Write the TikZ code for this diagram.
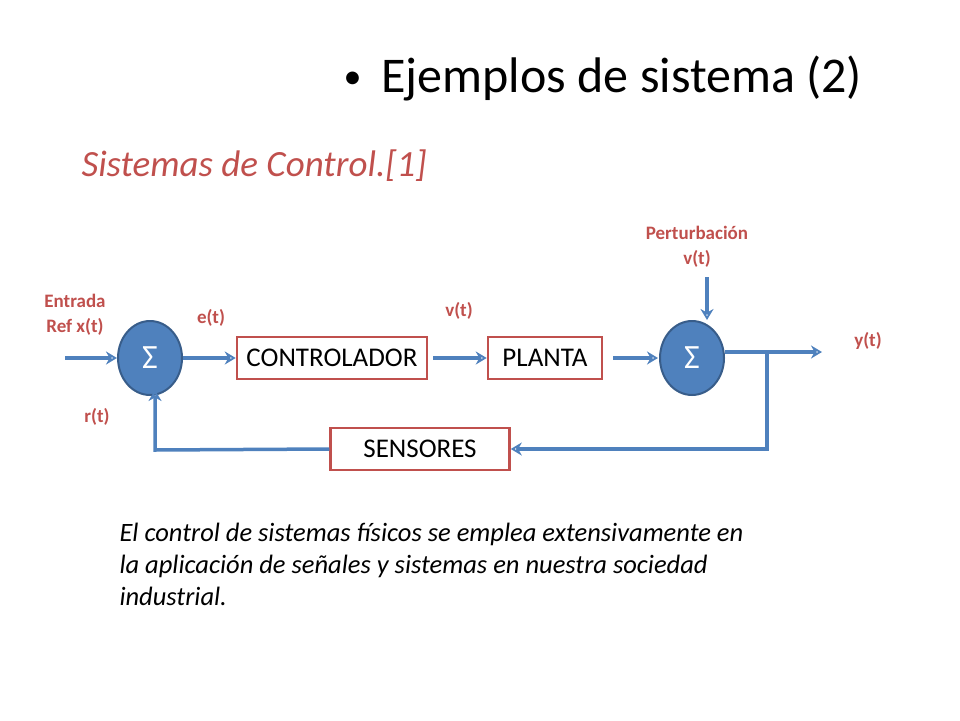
\documentclass[tikz,border=0pt]{standalone}
\usepackage{fontspec}
\setmainfont{Carlito}
\usetikzlibrary{positioning, arrows.meta, shapes.geometric}

\begin{document}
\begin{tikzpicture}[
    x=1pt, y=-1pt,
    >={Stealth[length=11pt,width=13pt,open]},
]

% ── Colors ──
\definecolor{sumfill}{HTML}{4F81BD}
\definecolor{sumborder}{HTML}{385D8A}
\definecolor{boxborder}{HTML}{C0504D}
\definecolor{lblred}{HTML}{C0504D}

\tikzset{
    sumnode/.style={ellipse, draw=sumborder, fill=sumfill, line width=2pt,
        minimum width=64pt, minimum height=74pt, inner sep=0pt,
        text=white, font=\fontsize{34}{36}\selectfont},
    blockbox/.style={rectangle, draw=boxborder, line width=2.5pt, fill=white,
        minimum height=42pt, inner sep=0pt, font=\fontsize{27}{29}\selectfont},
    sigline/.style={->, sumfill, line width=3.5pt},
    siglabel/.style={font=\fontsize{19}{23}\selectfont\bfseries, text=lblred, align=center},
}

\useasboundingbox (0,0) rectangle (960,720);

% ══════════════════════════════════════════════
% Title
% ══════════════════════════════════════════════
\node[anchor=west, font=\fontsize{50}{54}\selectfont] (title) at (340,78)
    {{\fontsize{36}{40}\selectfont\raisebox{4pt}{•}}\hspace{20pt}Ejemplos de sistema (2)};
\node[anchor=west, font=\fontsize{37}{40}\selectfont\itshape, text=lblred]
    (subtitle) at (78,166) {Sistemas de Control.[1]};

% ══════════════════════════════════════════════
% Blocks
% ══════════════════════════════════════════════
\node[sumnode] (sum1) at (150,358) {Σ};
\node[sumnode] (sum2) at (692,358) {Σ};
\node[blockbox, minimum width=190pt] (ctrl) at (332,358) {CONTROLADOR};
\node[blockbox, minimum width=114pt] (plant) at (545,358) {PLANTA};
\node[blockbox, minimum width=179pt] (sens) at (420,449) {SENSORES};

% ══════════════════════════════════════════════
% Signals
% ══════════════════════════════════════════════
\coordinate (xin) at (65,358);
\coordinate (yout) at (822,352);
\coordinate (branch) at (767,352);
\coordinate (dist) at (707,277);
\coordinate (rcorner) at (155,450);

\draw[sigline] (xin) -- (sum1);
\draw[sigline] (sum1.east) -- (ctrl.west);
\draw[sigline] ([xshift=5pt]ctrl.east) -- (plant.west);
\draw[sigline] ([xshift=10pt]plant.east) -- ([xshift=-1pt]sum2.west);
\draw[sigline] (sum2.east |- yout) -- (yout);
\draw[sigline] (branch) |- (sens.east);
\draw[sigline] (sens.west) -- (rcorner) -- ([yshift=6pt]sum1.south -| rcorner);
\draw[sigline] (dist) -- (sum2.north -| dist);

% ══════════════════════════════════════════════
% Labels
% ══════════════════════════════════════════════
\node[siglabel] (inlbl) at (75,315) {Entrada\\[2pt] Ref x(t)};
\node[siglabel] (elbl) at (211,318) {e(t)};
\node[siglabel] (vlbl) at (459,311) {v(t)};
\node[siglabel] (dlbl) at (697,247) {Perturbación\\[2pt] v(t)};
\node[siglabel] (ylbl) at (868,341) {y(t)};
\node[siglabel] (rlbl) at (97,417) {r(t)};

% ══════════════════════════════════════════════
% Caption text
% ══════════════════════════════════════════════
\node[anchor=north west, align=left, font=\fontsize{26.5}{32}\selectfont\itshape]
    (caption) at (116,520) {El control de sistemas físicos se emplea extensivamente en\\
    la aplicación de señales y sistemas en nuestra sociedad\\
    industrial.};

\end{tikzpicture}
\end{document}
